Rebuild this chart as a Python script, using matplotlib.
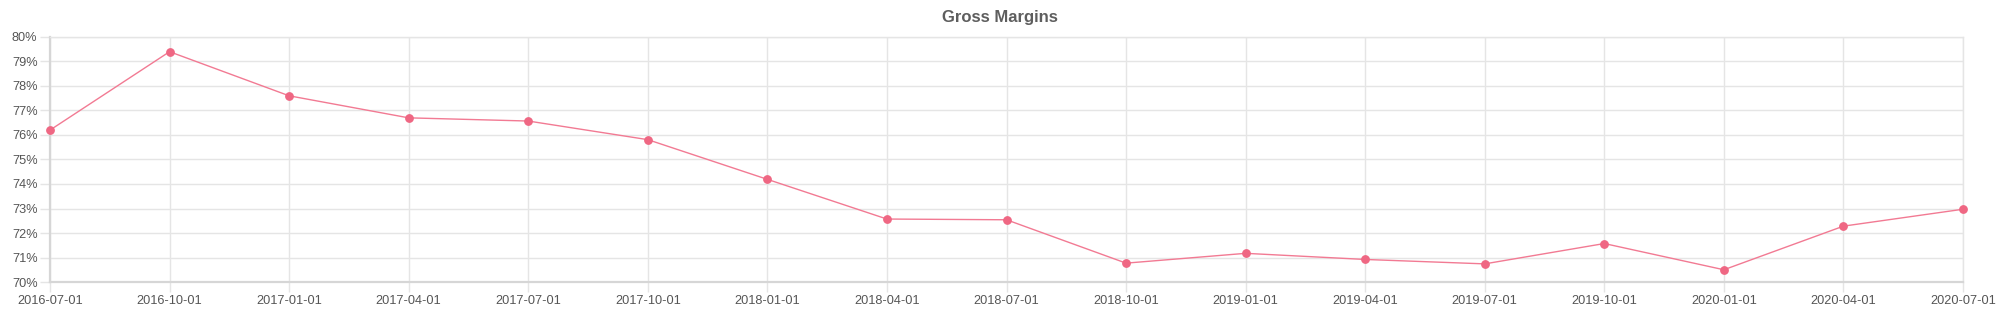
import matplotlib
matplotlib.use("Agg")
from matplotlib import pyplot as plt
from matplotlib.ticker import FuncFormatter

quarters = ["2016-07-01", "2016-10-01", "2017-01-01", "2017-04-01", "2017-07-01",
            "2017-10-01", "2018-01-01", "2018-04-01", "2018-07-01", "2018-10-01",
            "2019-01-01", "2019-04-01", "2019-07-01", "2019-10-01", "2020-01-01",
            "2020-04-01", "2020-07-01"]
gross_margin = [76.2, 79.4, 77.6, 76.7, 76.57, 75.81, 74.19, 72.57, 72.54, 70.77,
                71.17, 70.92, 70.74, 71.57, 70.5, 72.28, 72.97]
y_ticks = [70, 71, 72, 73, 74, 75, 76, 77, 78, 79, 80]

plt.rcParams['font.family'] = ['Liberation Sans', 'DejaVu Sans']

fig = plt.figure(figsize=(20, 3.17), dpi=100)
ax = fig.add_axes([0.025, 0.1104, 0.9565, 0.7729])

x = list(range(len(quarters)))
ax.plot(x, gross_margin, color="#f27a93", linewidth=1.0,
        marker="o", markersize=5.3, markerfacecolor="#ef6783",
        markeredgecolor="#ef6783", zorder=3, clip_on=False)

ax.set_xlim(0, len(quarters) - 1)
ax.set_ylim(70, 80)
ax.set_xticks(x)
ax.set_xticklabels(quarters)
ax.set_yticks(y_ticks)
ax.yaxis.set_major_formatter(FuncFormatter(lambda v, p: "%d%%" % v))

grid_col = "#e5e5e5"
ax.grid(True, color=grid_col, linewidth=1.0)
ax.set_axisbelow(True)
for s in ["top", "right"]:
    ax.spines[s].set_color(grid_col)
    ax.spines[s].set_linewidth(1.0)
for s in ["left", "bottom"]:
    ax.spines[s].set_color("#d6d6d6")
    ax.spines[s].set_linewidth(1.6)

ax.tick_params(axis="both", length=7, color=grid_col, width=1.0,
               labelsize=9.2, labelcolor="#555555", pad=2)

fig.suptitle("Gross Margins", y=0.97, fontsize=12, fontweight="bold", color="#5e5e5e")

fig.savefig("out.png", dpi=100)
